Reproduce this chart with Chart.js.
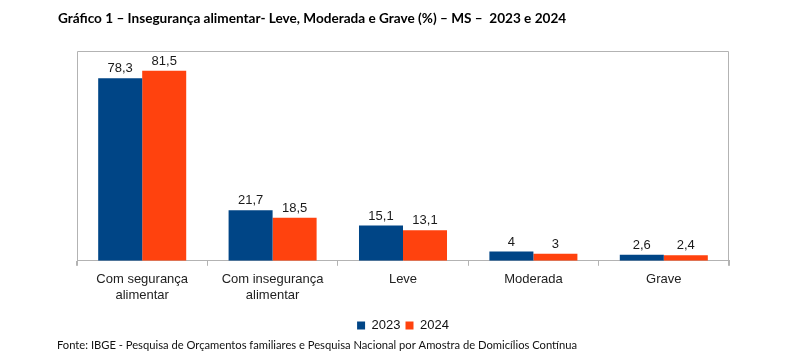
<!DOCTYPE html>
<html><head><meta charset="utf-8">
<script src="https://cdn.jsdelivr.net/npm/chart.js@4/dist/chart.umd.min.js"></script>
<style>html,body{margin:0;padding:0;background:#fff}#w{width:798px;height:361px;position:relative}</style>
</head><body><div id="w"><canvas id="c" width="798" height="361"></canvas></div>
<script>
const categories = [["Com segurança","alimentar"],["Com insegurança","alimentar"],"Leve","Moderada","Grave"];
const series2023 = [78.3, 21.7, 15.1, 4, 2.6];
const series2024 = [81.5, 18.5, 13.1, 3, 2.4];
const seriesNames = ["2023","2024"];
const titleText = "Gráfico 1 – Insegurança alimentar- Leve, Moderada e Grave (%) – MS –  2023 e 2024";
const sourceText = "Fonte: IBGE - Pesquisa de Orçamentos familiares e Pesquisa Nacional por Amostra de Domicílios Contínua";

const fmt = v => String(v).replace('.', ',');

const extras = {
  id: 'extras',
  beforeDatasetsDraw(chart) {
    const {ctx, chartArea: a} = chart;
    ctx.save();
    ctx.strokeStyle = '#b3b3b3';
    ctx.lineWidth = 1;
    ctx.beginPath();
    ctx.moveTo(a.left + 0.5, a.bottom + 5);
    ctx.lineTo(a.left + 0.5, a.top + 0.5);
    ctx.lineTo(a.right - 0.5, a.top + 0.5);
    ctx.lineTo(a.right - 0.5, a.bottom + 5);
    ctx.stroke();
    ctx.restore();
  },
  afterDatasetsDraw(chart) {
    const {ctx} = chart;
    ctx.save();
    ctx.font = '13px "Liberation Sans"';
    ctx.fillStyle = '#1a1a1a';
    ctx.textAlign = 'center';
    ctx.textBaseline = 'bottom';
    chart.data.datasets.forEach((ds, i) => {
      chart.getDatasetMeta(i).data.forEach((bar, j) => {
        ctx.fillText(fmt(ds.data[j]), bar.x, bar.y - 3);
      });
    });
    ctx.restore();
  },
  afterDraw(chart) {
    const {ctx} = chart;
    ctx.save();
    ctx.fillStyle = '#000';
    ctx.textBaseline = 'alphabetic';
    ctx.textAlign = 'left';
    ctx.font = 'bold 13.6px Lato';
    ctx.fillText(titleText, 58, 23);
    ctx.font = '11.2px Lato';
    ctx.fillStyle = '#111';
    ctx.fillText(sourceText, 57, 349);
    ctx.restore();
  }
};

new Chart(document.getElementById('c'), {
  type: 'bar',
  data: {
    labels: categories,
    datasets: [
      {label: seriesNames[0], data: series2023, backgroundColor: '#004586'},
      {label: seriesNames[1], data: series2024, backgroundColor: '#ff420e'}
    ]
  },
  options: {
    responsive: false,
    animation: false,
    devicePixelRatio: 1,
    layout: {padding: {left: 77, right: 69, top: 51, bottom: 19}},
    datasets: {bar: {barPercentage: 1, categoryPercentage: 0.675}},
    scales: {
      x: {
        afterFit(scale) { scale.height += 5; },
        grid: {display: true, offset: true, drawOnChartArea: false, drawTicks: true, tickLength: 5, color: '#b3b3b3'},
        border: {display: true, color: '#b3b3b3'},
        ticks: {color: '#222', font: {family: 'Liberation Sans', size: 13}, padding: 6, maxRotation: 0}
      },
      y: {
        min: 0, max: 90,
        display: false
      }
    },
    plugins: {
      legend: {
        position: 'bottom',
        labels: {boxWidth: 8, boxHeight: 8, padding: 5, color: '#111', font: {family: 'Liberation Sans', size: 13}},
      },
      tooltip: {enabled: false}
    }
  },
  plugins: [extras]
});
</script></body></html>
